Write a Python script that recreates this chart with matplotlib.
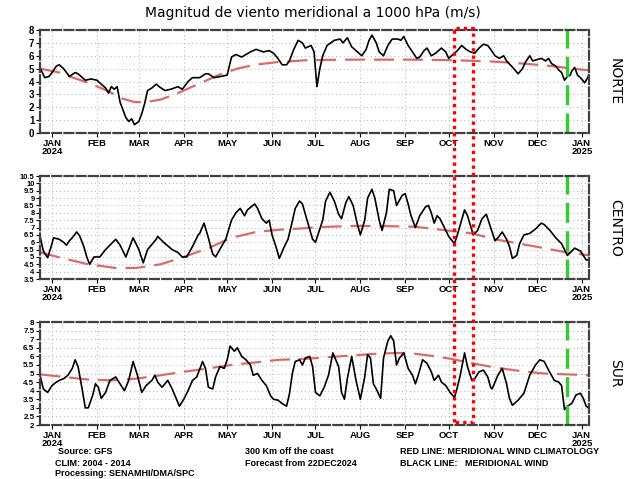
import numpy as np
import matplotlib
matplotlib.use("Agg")
import matplotlib.pyplot as plt
import matplotlib.transforms as mtransforms

plt.rcParams['font.family'] = ['Liberation Sans', 'DejaVu Sans']

# dias desde 2024-01-01
norte_dia = [-8, -5, -2, 0, 3, 5, 8, 12, 16, 18, 23, 27, 31, 34, 37, 39, 41, 43, 45, 47, 49, 51, 53, 55, 57,
             60, 62, 64, 66, 69, 72, 74, 78, 82, 87, 90, 94, 97, 102, 106, 108, 112, 117, 121, 124, 127, 131,
             137, 141, 146, 150, 153, 156, 159, 162, 164, 167, 170, 173, 175, 179, 181, 183, 185, 187, 190,
             195, 199, 201, 204, 207, 211, 214, 217, 219, 221, 224, 226, 229, 232, 235, 239, 241, 243, 246,
             249, 252, 254, 257, 259, 262, 265, 269, 272, 274, 277, 280, 283, 286, 289, 292, 295, 298, 301,
             303, 306, 309, 312, 314, 319, 322, 325, 327, 330, 332, 335, 338, 341, 343, 345, 348, 350, 352,
             354, 356, 358, 359, 361, 363, 365, 368, 370, 372]
norte_val = [5.0, 4.3, 4.4, 4.7, 5.2, 5.3, 5.0, 4.4, 4.7, 4.6, 4.1, 4.2, 4.1, 3.8, 3.5, 3.1, 3.6, 3.4, 3.6,
             2.4, 1.8, 1.2, 0.9, 1.1, 0.65, 0.9, 1.5, 2.3, 3.3, 3.5, 3.8, 3.6, 3.3, 3.4, 3.6, 3.4, 4.0, 4.3,
             4.3, 4.6, 4.6, 4.3, 4.4, 4.5, 5.9, 6.1, 5.9, 6.3, 6.5, 6.3, 6.4, 6.2, 5.8, 5.3, 5.3, 5.6, 6.5,
             7.2, 7.0, 6.6, 6.8, 6.3, 3.6, 5.0, 6.0, 6.8, 7.2, 7.3, 7.0, 7.4, 6.7, 6.3, 6.0, 6.5, 7.2, 7.6,
             7.0, 6.3, 6.0, 6.8, 7.3, 7.3, 7.2, 7.5, 6.8, 6.3, 5.8, 5.9, 6.4, 6.6, 6.0, 6.2, 6.6, 6.3, 5.8,
             6.1, 6.4, 6.8, 6.5, 6.3, 6.2, 6.6, 6.9, 6.8, 6.5, 6.0, 5.8, 6.0, 5.6, 5.0, 4.6, 5.0, 5.5, 6.0,
             5.6, 5.7, 5.8, 5.6, 5.8, 5.4, 5.2, 4.9, 4.7, 4.1, 4.4, 4.5, 4.8, 5.1, 4.5, 4.3, 3.9, 4.3, 4.8]
norte_clim_dia = [-8, 5, 12, 25, 38, 48, 57, 65, 75, 85, 95, 105, 115, 128, 140, 155, 175, 200, 250, 280,
                  305, 325, 345, 360, 372]
norte_clim = [5.0, 4.7, 4.4, 3.9, 3.3, 2.7, 2.4, 2.4, 2.6, 3.0, 3.5, 4.0, 4.5, 5.0, 5.3, 5.5, 5.65, 5.7,
              5.7, 5.65, 5.55, 5.4, 5.2, 5.0, 4.85]

centro_dia = [-8, -6, -3, 0, 1, 5, 8, 10, 12, 14, 17, 19, 22, 24, 26, 29, 33, 37, 41, 44, 47, 51, 56, 60,
              63, 66, 72, 73, 77, 83, 87, 90, 93, 97, 101, 102, 105, 108, 111, 113, 117, 120, 124, 127,
              130, 133, 135, 140, 142, 145, 148, 150, 152, 155, 157, 160, 163, 165, 168, 171, 173, 175,
              180, 182, 187, 189, 192, 195, 198, 200, 203, 205, 208, 211, 213, 216, 218, 221, 223, 226,
              228, 231, 233, 236, 238, 242, 244, 246, 248, 251, 254, 258, 260, 262, 264, 266, 268, 271,
              274, 278, 280, 285, 287, 291, 294, 297, 300, 302, 306, 308, 311, 314, 316, 318, 321, 323,
              326, 330, 334, 338, 340, 344, 348, 352, 356, 358, 361, 365, 369, 372]
centro_val = [6.3, 5.4, 4.95, 5.9, 6.3, 6.2, 6.0, 5.8, 6.1, 6.3, 6.7, 6.45, 5.7, 5.0, 4.5, 5.0, 5.0, 5.5,
              5.9, 6.2, 5.8, 5.0, 6.3, 5.5, 4.6, 5.5, 6.2, 6.4, 6.0, 5.5, 5.3, 5.0, 5.0, 5.7, 6.5, 6.6,
              7.3, 6.3, 5.2, 5.0, 5.7, 6.2, 7.5, 8.0, 8.3, 7.8, 8.2, 8.6, 8.3, 7.6, 7.3, 7.5, 6.5, 5.6,
              4.9, 5.6, 6.2, 7.0, 8.3, 8.8, 8.6, 7.9, 6.2, 6.0, 7.5, 8.8, 9.4, 8.8, 7.9, 7.6, 8.7, 9.1,
              8.5, 7.2, 6.5, 7.5, 9.0, 9.6, 9.0, 7.5, 6.8, 8.0, 9.6, 9.5, 8.5, 9.2, 9.3, 8.6, 7.8, 7.0,
              7.8, 8.4, 8.5, 8.0, 7.3, 7.8, 7.6, 7.0, 6.4, 5.9, 6.5, 8.2, 7.8, 6.5, 6.8, 7.6, 7.9, 7.3,
              6.1, 6.3, 6.7, 6.2, 5.7, 4.9, 5.1, 5.9, 6.5, 6.6, 6.9, 7.3, 7.2, 6.8, 6.3, 5.9, 5.1, 5.3,
              5.6, 5.4, 4.8, 4.8]
centro_clim_dia = [-8, 8, 25, 44, 58, 75, 91, 108, 124, 141, 157, 174, 190, 207, 229, 251, 273, 290, 306,
                   323, 340, 356, 372]
centro_clim = [5.3, 4.9, 4.5, 4.25, 4.25, 4.5, 5.0, 5.6, 6.3, 6.7, 6.85, 6.95, 7.05, 7.1, 7.1, 7.05, 6.8,
               6.6, 6.2, 5.9, 5.6, 5.3, 5.1]

sur_dia = [-8, -6, -3, 0, 3, 5, 8, 11, 14, 16, 18, 21, 23, 25, 28, 30, 32, 34, 37, 40, 44, 47, 50, 53, 56,
           59, 62, 65, 69, 71, 73, 76, 80, 83, 86, 88, 91, 94, 97, 100, 104, 106, 108, 111, 113, 116, 119,
           121, 123, 126, 128, 131, 134, 137, 139, 142, 145, 148, 151, 153, 156, 159, 162, 164, 166, 168,
           171, 173, 175, 178, 180, 182, 185, 188, 191, 194, 198, 200, 202, 204, 207, 210, 213, 216, 218,
           220, 222, 224, 227, 229, 232, 234, 236, 238, 240, 243, 246, 249, 251, 253, 256, 259, 262, 264,
           267, 269, 272, 275, 278, 280, 282, 285, 287, 290, 292, 295, 298, 301, 303, 304, 308, 311, 314,
           316, 318, 322, 326, 330, 334, 337, 340, 343, 347, 350, 352, 354, 356, 359, 362, 365, 367, 369,
           372]
sur_val = [4.8, 4.1, 3.9, 4.3, 4.5, 4.6, 4.7, 4.9, 5.3, 5.8, 5.4, 4.0, 3.0, 3.0, 3.7, 4.4, 4.2, 3.55, 3.9,
           4.6, 4.8, 4.4, 4.0, 4.6, 5.7, 4.9, 3.9, 4.3, 4.6, 4.9, 4.5, 4.2, 4.6, 4.1, 3.5, 3.1, 3.5, 4.0,
           4.6, 4.8, 5.7, 5.3, 4.2, 4.1, 4.8, 5.4, 5.3, 5.8, 6.6, 6.3, 6.5, 6.0, 5.8, 5.5, 4.9, 5.0, 4.6,
           4.3, 3.7, 3.5, 3.45, 3.25, 3.1, 3.8, 5.0, 5.7, 5.8, 5.5, 5.9, 6.0, 5.4, 3.9, 3.7, 4.2, 4.9, 6.2,
           5.4, 3.9, 3.5, 4.7, 6.0, 4.6, 3.5, 4.8, 6.1, 5.9, 4.4, 4.1, 3.55, 5.9, 6.9, 7.2, 6.9, 5.5, 5.9,
           6.2, 5.3, 4.9, 4.4, 4.9, 5.8, 5.6, 5.1, 4.6, 4.9, 4.5, 4.3, 3.9, 3.6, 4.2, 4.9, 6.2, 5.4, 4.6,
           4.7, 5.1, 5.2, 4.8, 4.2, 4.1, 4.9, 5.3, 4.4, 3.55, 3.15, 3.45, 3.85, 4.9, 5.5, 5.8, 5.7, 5.2,
           4.6, 4.5, 4.3, 2.9, 3.1, 3.25, 3.75, 3.85, 3.55, 3.1, 2.9]
sur_clim_dia = [-8, 8, 25, 41, 58, 75, 91, 108, 124, 141, 157, 174, 190, 207, 224, 240, 251, 265, 276, 290,
                306, 323, 340, 356, 372]
sur_clim = [4.95, 4.8, 4.65, 4.6, 4.7, 4.9, 5.1, 5.3, 5.5, 5.65, 5.8, 5.85, 5.95, 6.05, 6.15, 6.2, 6.15,
            6.0, 5.85, 5.6, 5.35, 5.15, 5.0, 4.95, 4.9]

meses = ['JAN\n2024', 'FEB', 'MAR', 'APR', 'MAY', 'JUN', 'JUL', 'AUG', 'SEP', 'OCT', 'NOV', 'DEC', 'JAN\n2025']
inicio_mes = np.arange('2024-01', '2025-02', dtype='datetime64[M]').astype('datetime64[D]')
dia_mes = (inicio_mes - np.datetime64('2024-01-01')).astype(int)

dia_pronostico = 356   # 22DEC2024 (linea verde)
caja_ini, caja_fin = 278, 291   # recuadro rojo punteado (OCT)

paneles = [
    ('NORTE', norte_dia, norte_val, norte_clim_dia, norte_clim, (0, 8), np.arange(0, 8.1, 1), 7),
    ('CENTRO', centro_dia, centro_val, centro_clim_dia, centro_clim, (3.5, 10.5), np.arange(3.5, 10.51, 0.5), 5.4),
    ('SUR', sur_dia, sur_val, sur_clim_dia, sur_clim, (2, 8), np.arange(2, 8.01, 0.5), 5.8),
]
bottoms = [0.7223, 0.4175, 0.1127]

fig = plt.figure(figsize=(6.25, 4.79), dpi=100)
fig.text(0.5, 0.972, 'Magnitud de viento meridional a 1000 hPa (m/s)', ha='center', va='center',
         fontsize=10, family='DejaVu Sans')

axes = []
for (nombre, xd, yv, xc, yc, ylim, yt, fs_y), b in zip(paneles, bottoms):
    ax = fig.add_axes([0.064, b, 0.879, 0.215])
    ax.plot(xc, yc, color='#dc6a64', lw=1.6, dashes=(9, 4))
    ax.plot(xd, yv, color='black', lw=1.2)
    ax.axvline(dia_pronostico, color='#33cc33', lw=2.4, dashes=(6, 2.5))
    ax.set_xlim(-8.3, 371.2)
    ax.set_ylim(*ylim)
    ax.set_yticks(yt)
    ax.set_yticklabels(['%g' % v for v in yt])
    ax.set_xticks(dia_mes)
    ax.set_xticklabels(meses)
    ax.grid(True, color='#b0b0b0', lw=0.7, linestyle=(0, (1, 3)))
    ax.tick_params(axis='x', labelsize=6.8, length=3, width=0.8, pad=1)
    ax.tick_params(axis='y', labelsize=fs_y, length=3, width=0.8, pad=1)
    for lab in ax.get_xticklabels() + ax.get_yticklabels():
        lab.set_fontweight('bold')
        lab.set_linespacing(0.9)
    for sp in ax.spines.values():
        sp.set_color('#404040')
        sp.set_linewidth(1.6)
        sp.set_linestyle((0, (4, 1.5)))
    fig.text(0.984, b + 0.1075, nombre, rotation=-90, ha='center', va='center', fontsize=10,
             family='DejaVu Sans')
    axes.append(ax)

# recuadro rojo punteado sobre los tres paneles
tr = mtransforms.blended_transform_factory(axes[0].transData, fig.transFigure)
y_top, y_bot = 1 - 28 / 479, 1 - 422 / 479
fig.lines.append(plt.Line2D([caja_ini, caja_ini, caja_fin, caja_fin, caja_ini],
                            [y_bot, y_top, y_top, y_bot, y_bot], transform=tr,
                            color='red', lw=2.4, linestyle=(0, (1, 1.2))))

pie = dict(fontsize=6.5, fontweight='bold', va='center', ha='left')
fig.text(0.093, 1 - 452 / 479, 'Source: GFS', **pie)
fig.text(0.088, 1 - 463 / 479, 'CLIM: 2004 - 2014', **pie)
fig.text(0.088, 1 - 474 / 479, 'Processing: SENAMHI/DMA/SPC', **pie)
fig.text(0.392, 1 - 452 / 479, '300 Km off the coast', **pie)
fig.text(0.392, 1 - 463 / 479, 'Forecast from 22DEC2024', **pie)
fig.text(0.640, 1 - 452 / 479, 'RED LINE: MERIDIONAL WIND CLIMATOLOGY', **pie)
fig.text(0.640, 1 - 463 / 479, 'BLACK LINE:   MERIDIONAL WIND', **pie)

fig.savefig('out.png', dpi=100)
